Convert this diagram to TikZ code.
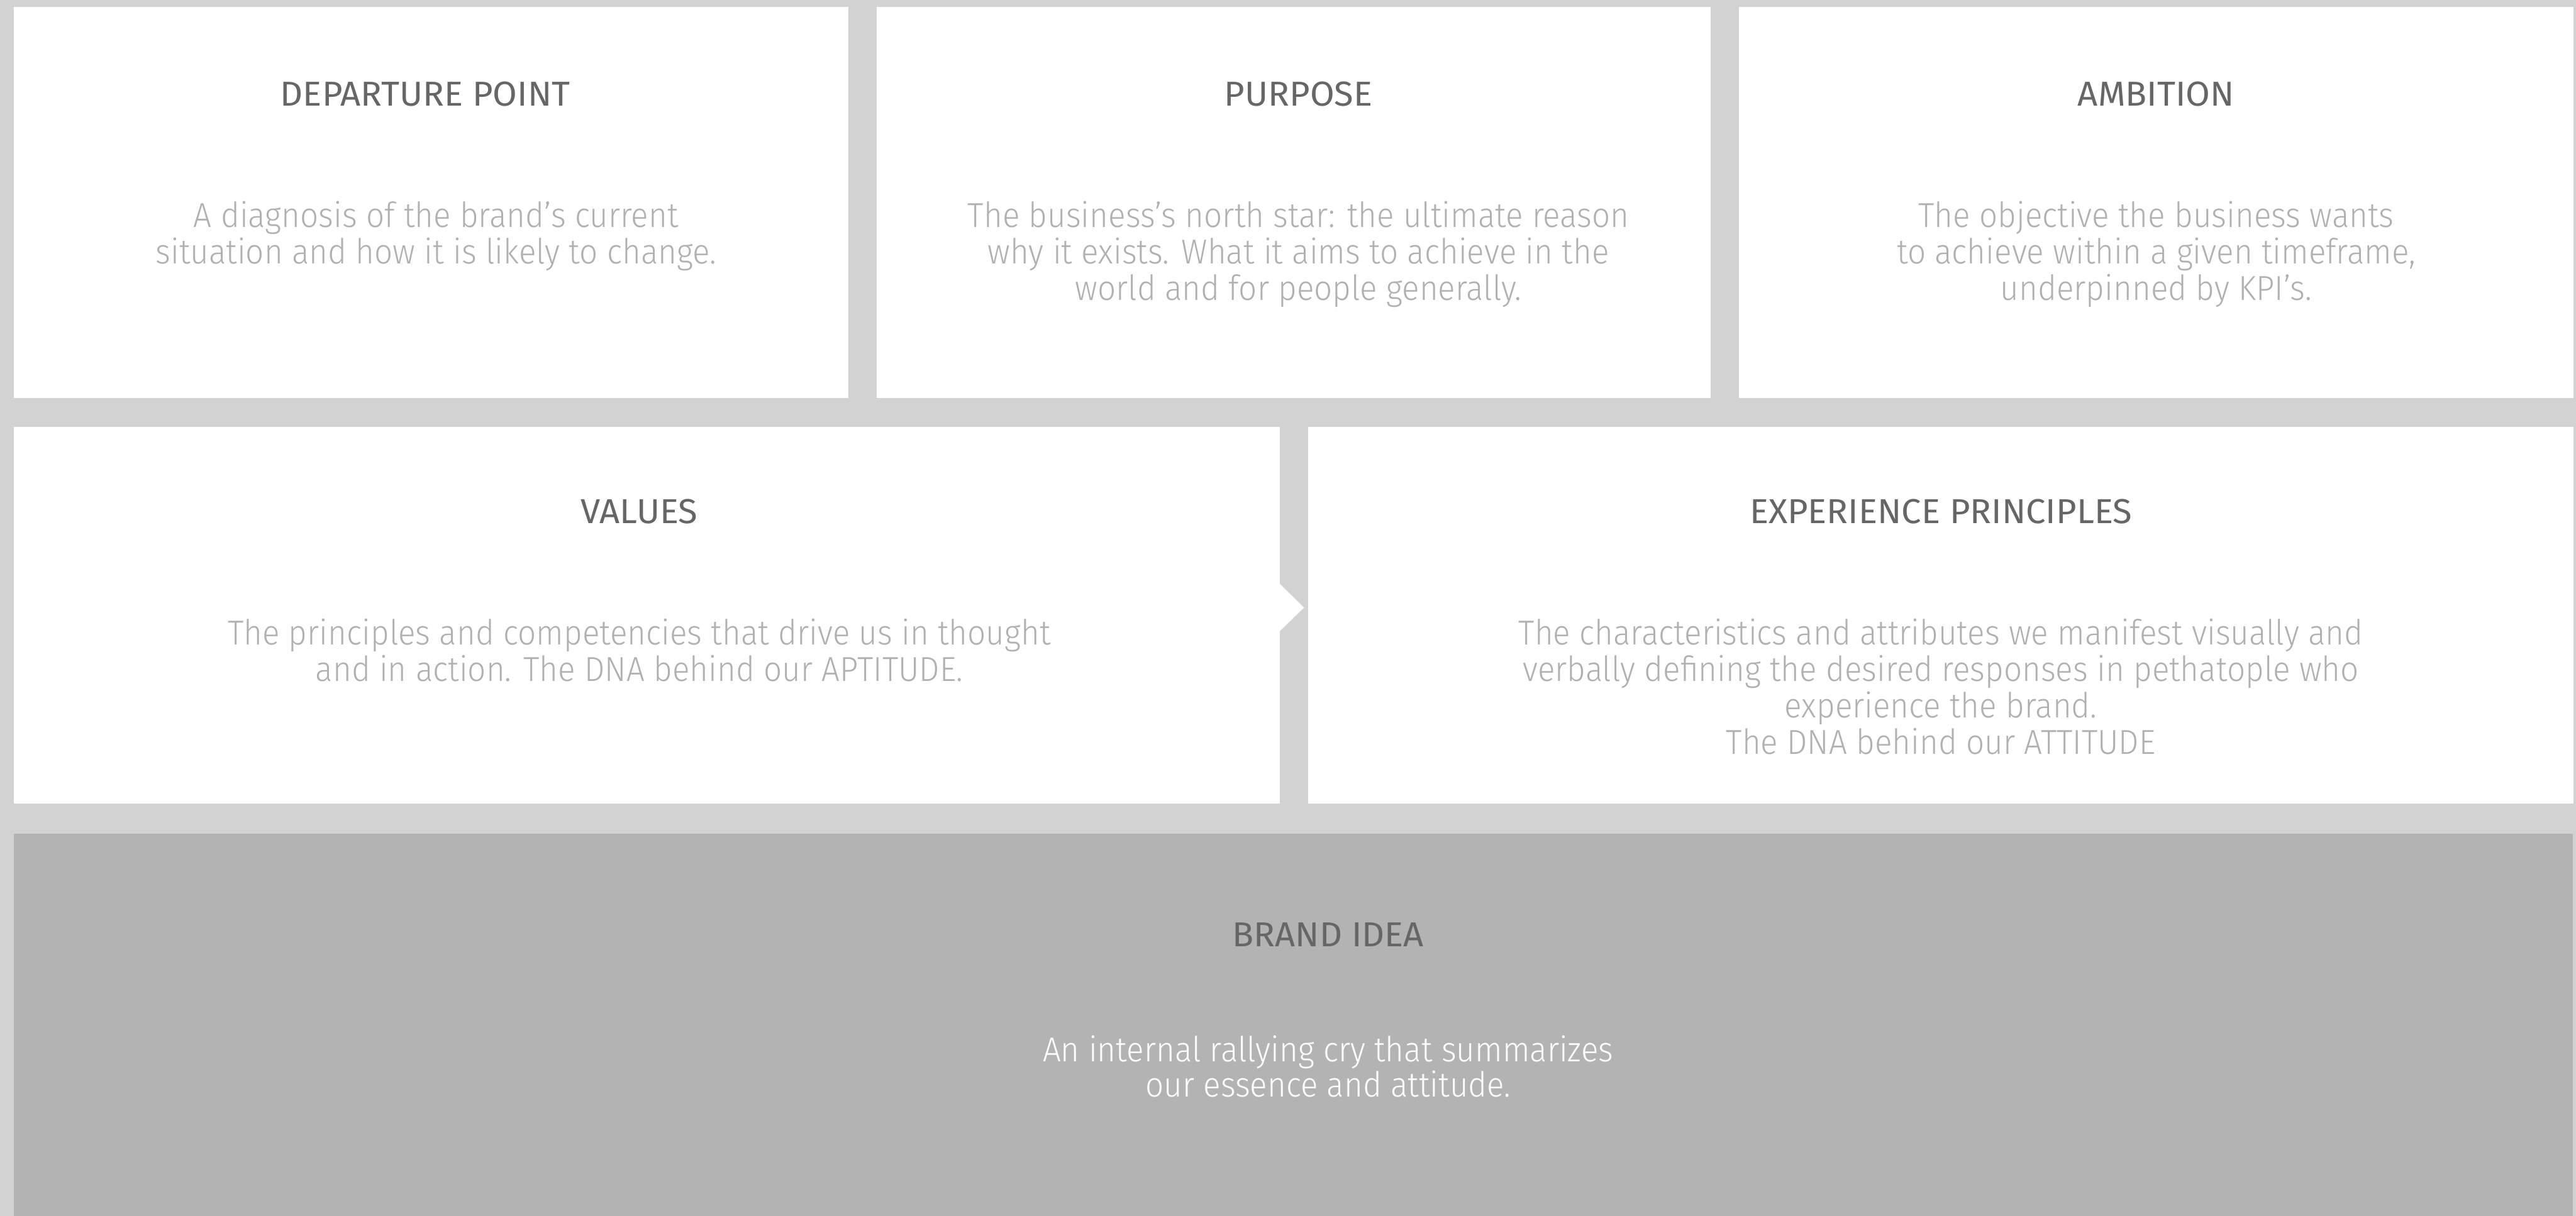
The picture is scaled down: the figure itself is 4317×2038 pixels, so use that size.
\documentclass[tikz,border=0pt]{standalone}
\usepackage{fontspec}
\setmainfont{Fira Sans Light}[FakeStretch=0.93]
\newfontfamily\headfont{Fira Sans}[FakeStretch=1.02]
\usetikzlibrary{positioning,calc}
\definecolor{bggray}{HTML}{D2D2D2}
\definecolor{ideagray}{HTML}{B3B3B3}
\definecolor{headgray}{HTML}{666666}
\definecolor{textgray}{HTML}{B0B0B0}

\begin{document}
\begin{tikzpicture}[
        x=0.1mm, y=-0.1mm,
        panel/.style={rectangle, fill=white, inner sep=0pt, anchor=north west},
        toprow/.style={panel, minimum width=139.8mm, minimum height=65.5mm},
        midrow/.style={panel, minimum width=212.1mm, minimum height=63.2mm},
        heading/.style={font=\headfont\fontsize{16.5}{17.5}\selectfont, text=headgray, inner sep=0pt},
        bodytext/.style={font=\fontsize{16.5}{17.4}\selectfont, text=textgray, align=center, inner sep=0pt, anchor=north}
        ]
        \useasboundingbox (0,0) rectangle (4317,2038);
        \fill[bggray] (0,0) rectangle (4317,2038);

        % top row
        \node[toprow] (departure) at (23,11) {};
        \node[toprow, right=4.6mm of departure.north east, anchor=north west] (purpose) {};
        \node[toprow, right=4.6mm of purpose.north east, anchor=north west] (ambition) {};

        % middle row
        \node[midrow, below=4.7mm of departure.south west, anchor=north west] (values) {};
        \node[midrow, right=4.6mm of values.north east, anchor=north west] (experience) {};
        \fill[white] ($(values.north east)+(-1,264)$) -- ($(values.north east)+(40,304)$) -- ($(values.north east)+(-1,344)$) -- cycle;

        % brand idea
        \node[panel, fill=ideagray, minimum width=428.8mm, minimum height=64.4mm, below=4.9mm of values.south west, anchor=north west] (idea) {};

        \node[heading] (departure-title) at ($(departure.north)+(-10,147)$) {DEPARTURE POINT};
        \node[bodytext] (departure-text) at ($(departure.north)+(8,326)$) {A diagnosis of the brand’s current\\situation and how it is likely to change.};

        \node[heading] (purpose-title) at ($(purpose.north)+(8,147)$) {PURPOSE};
        \node[bodytext] (purpose-text) at ($(purpose.north)+(8,326)$) {The business’s north star: the ultimate reason\\why it exists. What it aims to achieve in the\\world and for people generally.};

        \node[heading] (ambition-title) at ($(ambition.north)+(0,147)$) {AMBITION};
        \node[bodytext] (ambition-text) at ($(ambition.north)+(0,326)$) {The objective the business wants\\to achieve within a given timeframe,\\underpinned by KPI’s.};

        \node[heading] (values-title) at ($(values.north)+(-13,143)$) {VALUES};
        \node[bodytext] (values-text) at ($(values.north)+(-13,322)$) {The principles and competencies that drive us in thought\\and in action. The DNA behind our APTITUDE.};

        \node[heading] (experience-title) at ($(experience.north)+(0,143)$) {EXPERIENCE PRINCIPLES};
        \node[bodytext] (experience-text) at ($(experience.north)+(0,322)$) {The characteristics and attributes we manifest visually and\\verbally defining the desired responses in pethatople who\\experience the brand.\\The DNA behind our ATTITUDE};

        \node[heading] (idea-title) at ($(idea.north)+(58,170)$) {BRAND IDEA};
        \node[bodytext, font=\fontsize{16.5}{16.9}\selectfont, text=white] (idea-text) at ($(idea.north)+(58,338)$) {An internal rallying cry that summarizes\\our essence and attitude.};
    \end{tikzpicture}
\end{document}
